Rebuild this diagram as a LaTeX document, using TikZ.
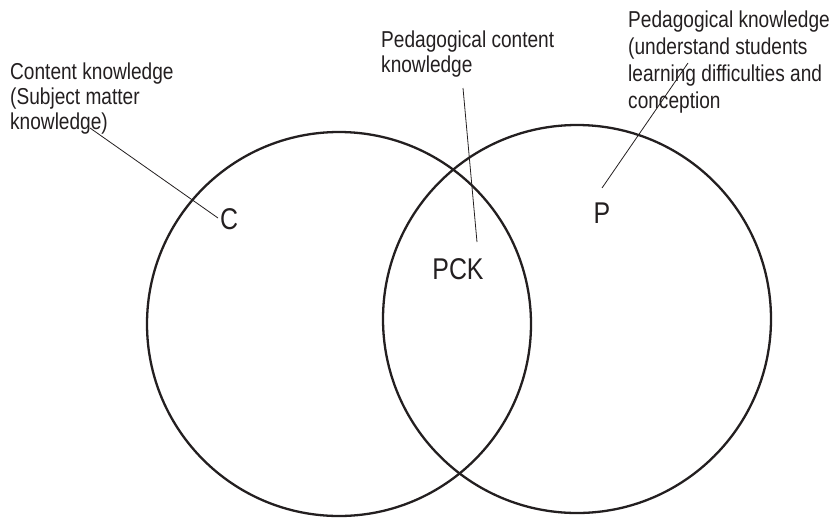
\documentclass[tikz,border=0pt]{standalone}
\usepackage{fontspec}
\newfontfamily\notefont[FakeStretch=0.83]{Liberation Sans}
\usetikzlibrary{positioning}

\definecolor{ink}{HTML}{231F20}

\begin{document}
\begin{tikzpicture}[x=1pt,y=-1pt,
  ring/.style={draw=ink,line width=2.3pt},
  lead/.style={draw=ink,line width=0.8pt},
  note/.style={font=\notefont\fontsize{23}{25}\selectfont,text=ink,align=left,inner sep=0pt,anchor=base west},
  tag/.style={font=\notefont\fontsize{30}{34}\selectfont,text=ink,inner sep=0pt}]
        \useasboundingbox (0,0) rectangle (837,520);
        % the two sets
        \draw[ring] (339,324) circle (192);
        \draw[ring] (577,319) circle (194);
        % set labels
        \node[tag] (c) at (229,219) {C};
        \node[tag] (pck) at (458,269) {PCK};
        \node[tag] (p) at (602,213) {P};
        % notes (placed by the baseline of their last line)
        \node[note] (ck) at (10,129) {Content knowledge\\(Subject matter\\knowledge)};
        \node[note] (pcknote) at (381,72) {Pedagogical content\\knowledge};
        \node[note,font=\notefont\fontsize{23}{26.7}\selectfont] (pk) at (628,108)
          {Pedagogical knowledge\\(understand students\\learning difficulties and\\conception};
        % leader lines
        \coordinate (ck-a) at (90,128);
        \coordinate (ck-b) at (218,218);
        \coordinate (pck-a) at (463,88);
        \coordinate (pck-b) at (477,242);
        \coordinate (pk-a) at (688,63);
        \coordinate (pk-b) at (602,188);
        \draw[lead] (ck-a) -- (ck-b);
        \draw[lead] (pck-a) -- (pck-b);
        \draw[lead] (pk-a) -- (pk-b);
\end{tikzpicture}
\end{document}
